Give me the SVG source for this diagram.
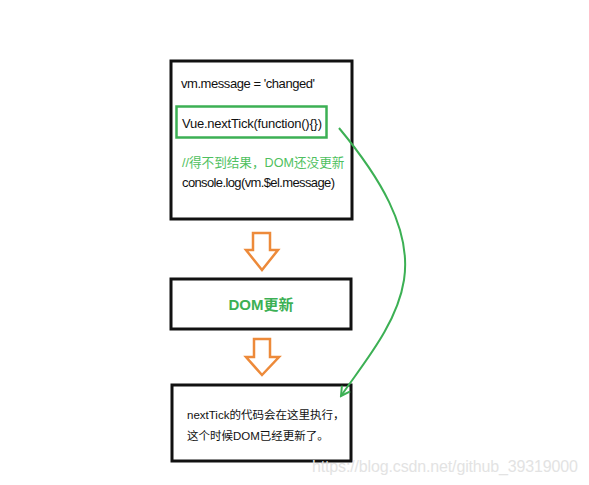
<svg xmlns="http://www.w3.org/2000/svg" width="589" height="485" viewBox="0 0 589 485">
<defs>
<style>
.box{fill:#fff;stroke:#111;stroke-width:3}
.t{font-family:"Liberation Sans","Noto Sans CJK SC",sans-serif;font-size:13px;fill:#111}
.s{font-size:11.5px}
.g{fill:#3cb054}
.arr{fill:#fff;stroke:#ed8a3a;stroke-width:2.5;stroke-linejoin:miter}
.wm{font-family:"Liberation Sans",sans-serif;font-size:16px;fill:#e3e3e3}
</style>
<marker id="ah" viewBox="0 0 12 12" refX="10" refY="6" markerWidth="12" markerHeight="12" markerUnits="userSpaceOnUse" orient="auto">
<path d="M1,1 L10,6 L1,11" fill="none" stroke="#3cb054" stroke-width="2"/>
</marker>
</defs>
<rect width="589" height="485" fill="#fff"/>
<g id="code-box">
<rect class="box" x="171" y="61" width="181" height="158"/>
<text class="t" x="181" y="88" textLength="134">vm.message = 'changed'</text>
<rect x="176.5" y="106.5" width="150" height="31" fill="none" stroke="#3cb054" stroke-width="2.5"/>
<text class="t" x="182" y="128" textLength="140">Vue.nextTick(function(){})</text>
<text class="t" x="182" y="167" style="fill:#4fbf60;font-size:12.6px">//得不到结果，DOM还没更新</text>
<text class="t" x="182" y="187" textLength="153">console.log(vm.$el.message)</text>
</g>
<g id="dom-update">
<rect class="box" x="171" y="279" width="180" height="50"/>
<text class="t g" x="261" y="310" text-anchor="middle" font-weight="bold" style="font-size:15px">DOM更新</text>
</g>
<g id="next-tick-box">
<rect class="box" x="172" y="385" width="179" height="76"/>
<text class="t s" x="187" y="419">nextTick的代码会在这里执行，</text>
<text class="t s" x="187" y="440">这个时候DOM已经更新了。</text>
</g>
<g id="connectors">
<path class="arr" d="M253,233 H270 V250 H278 L262,270 L246,250 H253 Z"/>
<path class="arr" d="M254,339 H270 V357 H279 L262,375 L246,357 H254 Z"/>
<path d="M339,128 C378,175 412,228 404,280 C397,325 362,365 341,396" fill="none" stroke="#3cb054" stroke-width="2" marker-end="url(#ah)"/>
</g>
<text class="wm" x="312" y="472" textLength="266">https://blog.csdn.net/github_39319000</text>
</svg>
